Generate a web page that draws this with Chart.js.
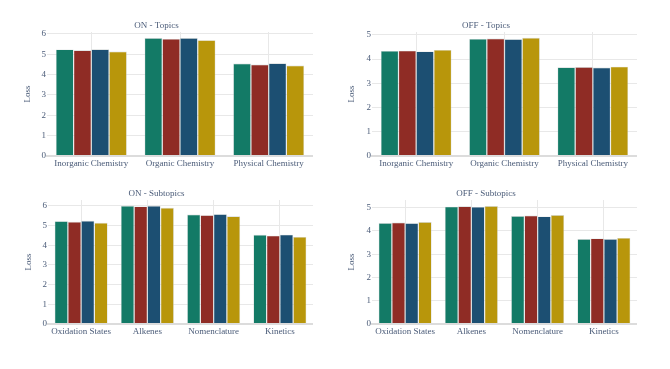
<!DOCTYPE html>
<html>
<head>
<meta charset="utf-8">
<script src="https://cdn.jsdelivr.net/npm/chart.js@4"></script>
<style>
  html, body { margin: 0; padding: 0; background: #ffffff; }
  body { width: 670px; height: 369px; position: relative; overflow: hidden; }
  .box { position: absolute; }
</style>
</head>
<body>
<div class="box" id="b1" style="left:0px;top:10px;width:313px;height:166px;"><canvas id="c1"></canvas></div>
<div class="box" id="b2" style="left:335px;top:10px;width:302px;height:166px;"><canvas id="c2"></canvas></div>
<div class="box" id="b3" style="left:0px;top:180px;width:313px;height:164px;"><canvas id="c3"></canvas></div>
<div class="box" id="b4" style="left:335px;top:180px;width:302px;height:164px;"><canvas id="c4"></canvas></div>
<script>
// ---- Data ----
const topicCategories = ["Inorganic Chemistry", "Organic Chemistry", "Physical Chemistry"];
const subtopicCategories = ["Oxidation States", "Alkenes", "Nomenclature", "Kinetics"];

const onTopicsA = [5.23, 5.79, 4.54];
const onTopicsB = [5.19, 5.75, 4.49];
const onTopicsC = [5.24, 5.79, 4.55];
const onTopicsD = [5.13, 5.69, 4.44];

const offTopicsA = [4.34, 4.83, 3.66];
const offTopicsB = [4.35, 4.85, 3.67];
const offTopicsC = [4.32, 4.82, 3.65];
const offTopicsD = [4.38, 4.88, 3.69];

const onSubtopicsA = [5.22, 6.00, 5.56, 4.53];
const onSubtopicsB = [5.19, 5.97, 5.53, 4.49];
const onSubtopicsC = [5.24, 6.00, 5.58, 4.54];
const onSubtopicsD = [5.14, 5.90, 5.47, 4.42];

const offSubtopicsA = [4.34, 5.04, 4.64, 3.65];
const offSubtopicsB = [4.36, 5.06, 4.66, 3.68];
const offSubtopicsC = [4.33, 5.03, 4.62, 3.65];
const offSubtopicsD = [4.38, 5.07, 4.68, 3.70];

const chartTitles = ["ON - Topics", "OFF - Topics", "ON - Subtopics", "OFF - Subtopics"];
const yAxisTitle = "Loss";

// ---- Style ----
const seriesColors = ["#137a66", "#8f2c25", "#1c4f72", "#b8960b"];
const textColor = "#4a5b78";
const gridColor = "#e8e8e8";
const fontFamily = "'Liberation Serif', 'Times New Roman', serif";

function makeChart(id, cats, series, title, yMax, yAxisWidth, yTitlePad, titlePadTop, titlePadBottom) {
  const ctx = document.getElementById(id);
  return new Chart(ctx, {
    type: 'bar',
    data: {
      labels: cats,
      datasets: series.map((vals, i) => ({
        data: vals,
        backgroundColor: seriesColors[i],
        borderColor: 'rgba(205,212,212,0.95)',
        borderWidth: 0.6,
        categoryPercentage: 0.8,
        barPercentage: 1.0
      }))
    },
    options: {
      responsive: true,
      maintainAspectRatio: false,
      animation: false,
      devicePixelRatio: 1,
      layout: { padding: 0 },
      plugins: {
        legend: { display: false },
        tooltip: { enabled: false },
        title: {
          display: true,
          text: title,
          color: textColor,
          font: { family: fontFamily, size: 9, weight: 'normal', lineHeight: 1.2 },
          padding: { top: titlePadTop, bottom: titlePadBottom }
        }
      },
      scales: {
        x: {
          grid: { display: true, offset: false, color: gridColor, lineWidth: 1, drawTicks: false },
          border: { display: true, color: '#dcdcdc', width: 2 },
          ticks: { color: textColor, font: { family: fontFamily, size: 9 }, padding: 2, maxRotation: 0, autoSkip: false },
          afterFit: (s) => { s.height = 20; }
        },
        y: {
          min: 0,
          max: yMax,
          grid: {
            color: (c) => (c.tick && c.tick.value === 0) ? '#dcdcdc' : gridColor,
            lineWidth: (c) => (c.tick && c.tick.value === 0) ? 2 : 1,
            drawTicks: false
          },
          border: { display: false },
          ticks: { stepSize: 1, includeBounds: false, color: textColor, font: { family: fontFamily, size: 9 }, padding: 1 },
          title: {
            display: true,
            text: yAxisTitle,
            color: textColor,
            font: { family: fontFamily, size: 9, lineHeight: 1.2 },
            padding: { top: yTitlePad, bottom: 0 }
          },
          afterFit: (s) => { s.width = yAxisWidth; }
        }
      }
    }
  });
}

makeChart('c1', topicCategories, [onTopicsA, onTopicsB, onTopicsC, onTopicsD], chartTitles[0], 6.09, 47, 22.6, 10.3, 0.9);
makeChart('c2', topicCategories, [offTopicsA, offTopicsB, offTopicsC, offTopicsD], chartTitles[1], 5.12, 37, 11.3, 10.3, 0.9);
makeChart('c3', subtopicCategories, [onSubtopicsA, onSubtopicsB, onSubtopicsC, onSubtopicsD], chartTitles[2], 6.3, 48, 23.6, 8.6, 0.6);
makeChart('c4', subtopicCategories, [offSubtopicsA, offSubtopicsB, offSubtopicsC, offSubtopicsD], chartTitles[3], 5.33, 37, 11.3, 8.6, 0.6);
</script>
</body>
</html>
